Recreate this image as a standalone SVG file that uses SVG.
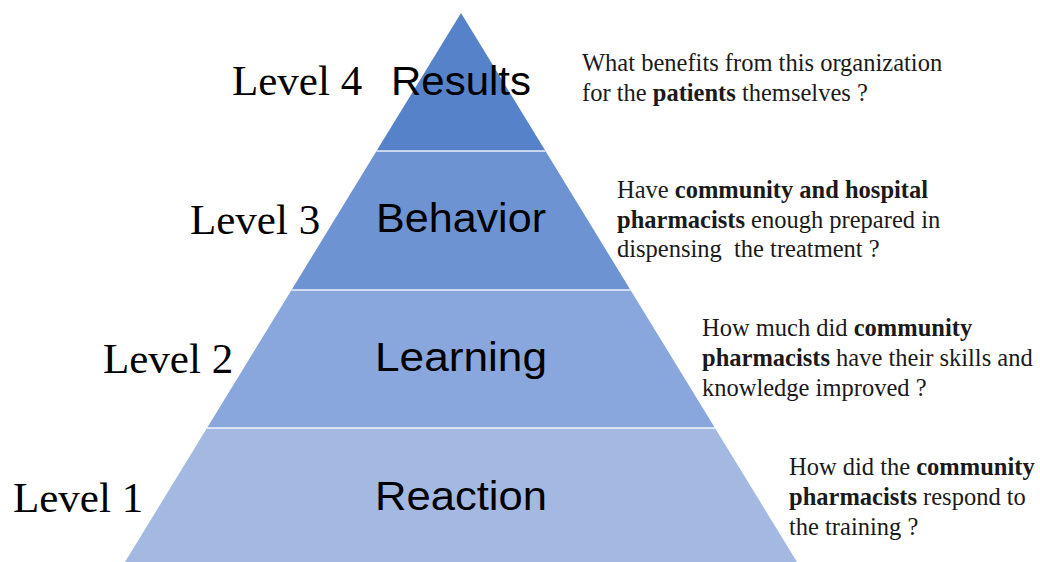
<svg xmlns="http://www.w3.org/2000/svg" width="1040" height="562" viewBox="0 0 1040 562">
<style>
.lvl{font-family:"Liberation Serif","Times New Roman",serif;font-size:43px;fill:#000}
.name{font-family:"Liberation Sans",Arial,sans-serif;font-size:41px;fill:#000;text-anchor:middle}
.q{font-family:"Liberation Serif","Times New Roman",serif;font-size:24.5px;fill:#1a1a1a}
.b{font-weight:bold}
.sep{stroke:#ffffff;stroke-opacity:0.65;stroke-width:2}
</style>
<rect width="1040" height="562" fill="#ffffff"/>
<g id="level4">
<polygon points="461,13 545.5,151 376.5,151" fill="#5682CA"/>
<text class="lvl" x="232" y="95">Level 4</text>
<text class="name" x="461" y="95" textLength="140" lengthAdjust="spacingAndGlyphs">Results</text>
<text class="q" x="582" y="71">What benefits from this organization</text>
<text class="q" x="582" y="101">for the <tspan class="b">patients</tspan> themselves ?</text>
</g>
<g id="level3">
<polygon points="376.5,151 545.5,151 630.5,290 291.5,290" fill="#6E93D3"/>
<text class="lvl" x="190" y="234">Level 3</text>
<text class="name" x="461" y="232" textLength="170" lengthAdjust="spacingAndGlyphs">Behavior</text>
<text class="q" x="617" y="198">Have <tspan class="b">community and hospital</tspan></text>
<text class="q" x="617" y="228"><tspan class="b">pharmacists</tspan> enough prepared in</text>
<text class="q" x="617" y="257" xml:space="preserve">dispensing  the treatment ?</text>
</g>
<g id="level2">
<polygon points="291.5,290 630.5,290 715,428 207,428" fill="#89A7DC"/>
<text class="lvl" x="103" y="373">Level 2</text>
<text class="name" x="461" y="371" textLength="172" lengthAdjust="spacingAndGlyphs">Learning</text>
<text class="q" x="702" y="336">How much did <tspan class="b">community</tspan></text>
<text class="q" x="702" y="366"><tspan class="b">pharmacists</tspan> have their skills and</text>
<text class="q" x="702" y="396">knowledge improved ?</text>
</g>
<g id="level1">
<polygon points="207,428 715,428 797,562 125,562" fill="#A3B9E1"/>
<text class="lvl" x="13" y="512">Level 1</text>
<text class="name" x="461" y="510" textLength="172" lengthAdjust="spacingAndGlyphs">Reaction</text>
<text class="q" x="789" y="475">How did the <tspan class="b">community</tspan></text>
<text class="q" x="789" y="505"><tspan class="b">pharmacists</tspan> respond to</text>
<text class="q" x="789" y="535">the training ?</text>
</g>
<g id="connectors">
<line class="sep" x1="376.5" y1="151" x2="545.5" y2="151"/>
<line class="sep" x1="291.5" y1="290" x2="630.5" y2="290"/>
<line class="sep" x1="207" y1="428" x2="715" y2="428"/>
</g>
</svg>
